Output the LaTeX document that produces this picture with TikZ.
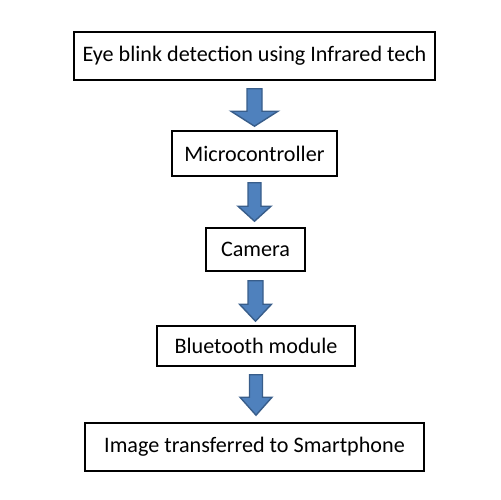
\documentclass[tikz,border=0pt]{standalone}
\usepackage{fontspec}
\setmainfont{Carlito}
\usetikzlibrary{calc}
\definecolor{arrowfill}{HTML}{4F81BD}
\definecolor{arrowline}{HTML}{385D8A}
% block arrow from box #1 to box #2:
% #3 half shaft width, #4 half head width, #5 head length,
% #6 gap below #1, #7 gap above #2 (all in picture units)
\newcommand\blockarrow[7]{%
  \draw[barrow] let \p1=(#1.south), \p2=(#2.north), \n1={0.5690551pt} in
    (\x1-#3*\n1, \y1-#6*\n1) -- (\x1+#3*\n1, \y1-#6*\n1)
    -- (\x1+#3*\n1, \y2+#7*\n1+#5*\n1) -- (\x1+#4*\n1, \y2+#7*\n1+#5*\n1)
    -- (\x1, \y2+#7*\n1) -- (\x1-#4*\n1, \y2+#7*\n1+#5*\n1)
    -- (\x1-#3*\n1, \y2+#7*\n1+#5*\n1) -- cycle;}
\tikzset{
  stagebox/.style={draw=black, line width=0.9pt, fill=white, inner sep=0pt,
    font=\fontsize{12.6}{15}\selectfont},
  barrow/.style={fill=arrowfill, draw=arrowline, line width=0.8pt, line join=miter},
}
\begin{document}
\begin{tikzpicture}[x=0.02cm, y=-0.02cm]
  \useasboundingbox (0,0) rectangle (500,500);
  \node[stagebox, minimum width=7.22cm, minimum height=0.96cm]
    (detect) at (254.5,56) {Eye blink detection using Infrared tech};
  \node[stagebox, minimum width=3.30cm, minimum height=0.90cm]
    (mcu) at (254.5,153.5) {Microcontroller};
  \node[stagebox, minimum width=1.98cm, minimum height=0.86cm]
    (cam) at (255.5,249.5) {Camera};
  \node[stagebox, minimum width=3.96cm, minimum height=0.80cm]
    (bt) at (256,346) {Bluetooth module};
  \node[stagebox, minimum width=6.78cm, minimum height=0.96cm]
    (phone) at (254.5,447) {Image transferred to Smartphone};

  \blockarrow{detect}{mcu}{7.5}{23.5}{15}{8}{4}
  \blockarrow{mcu}{cam}{6.5}{16.5}{15}{6}{6}
  \blockarrow{cam}{bt}{7.5}{16}{17}{9}{4}
  \blockarrow{bt}{phone}{6.5}{16}{18}{8}{7}
\end{tikzpicture}
\end{document}
